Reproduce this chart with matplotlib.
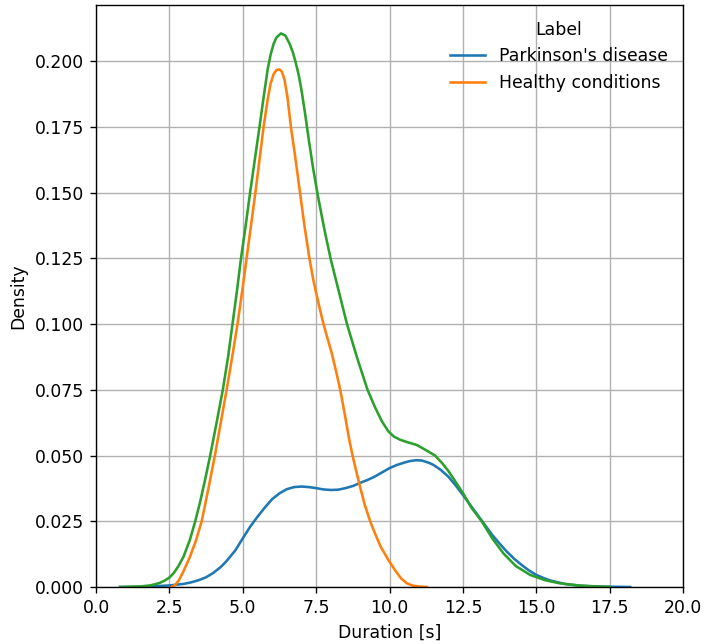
import matplotlib
matplotlib.use("Agg")
import matplotlib.pyplot as plt

# KDE curves (duration in s, density)
pd_x = [0.82, 1.5, 2.0, 2.5, 3.0, 3.25, 3.5, 3.75, 4.0, 4.25, 4.45, 4.75, 5.0, 5.25,
        5.5, 5.75, 6.0, 6.25, 6.5, 6.75, 7.0, 7.25, 7.5, 7.75, 8.0, 8.25, 8.5,
        8.75, 9.0, 9.25, 9.5, 9.75, 10.0, 10.25, 10.5, 10.7, 10.9, 11.1, 11.35,
        11.5, 11.75, 12.0, 12.25, 12.5, 12.75, 13.0, 13.25, 13.5, 13.75, 14.0,
        14.25, 14.5, 14.75, 15.0, 15.25, 15.5, 16.0, 16.5, 17.0, 18.2]
pd_y = [0.0, 0.0001, 0.0003, 0.0006, 0.0012, 0.0018, 0.0026, 0.0037, 0.0054,
        0.0076, 0.0099, 0.0140, 0.0185, 0.0229, 0.0267, 0.0302, 0.0334, 0.0356,
        0.0372, 0.0380, 0.0382, 0.0380, 0.0376, 0.0371, 0.0369, 0.0370, 0.0376,
        0.0384, 0.0396, 0.0407, 0.0420, 0.0436, 0.0452, 0.0464, 0.0473, 0.0479,
        0.0482, 0.0481, 0.0472, 0.0464, 0.0445, 0.0420, 0.0387, 0.0350, 0.0312,
        0.0274, 0.0236, 0.0198, 0.0165, 0.0134, 0.0107, 0.0084, 0.0063, 0.0046,
        0.0034, 0.0024, 0.0011, 0.0005, 0.0002, 0.0]

hc_x = [2.58, 2.7, 2.83, 2.95, 3.07, 3.2, 3.4, 3.6, 3.83, 4.05, 4.25, 4.45, 4.64,
        4.82, 4.98, 5.13, 5.28, 5.43, 5.57, 5.71, 5.85, 5.95, 6.05, 6.15, 6.25,
        6.33, 6.42, 6.52, 6.64, 6.8, 6.95, 7.1, 7.27, 7.4, 7.5, 7.62, 7.75, 7.9,
        8.03, 8.18, 8.32, 8.42, 8.51, 8.62, 8.74, 8.86, 8.98, 9.15, 9.34, 9.5,
        9.7, 9.96, 10.2, 10.4, 10.59, 10.8, 11.0, 11.27]
hc_y = [0.0, 0.0008, 0.0027, 0.0053, 0.0082, 0.0115, 0.0175, 0.025, 0.0375, 0.05,
        0.0625, 0.075, 0.0875, 0.1, 0.1125, 0.125, 0.1375, 0.15, 0.1625, 0.175,
        0.1855, 0.1915, 0.195, 0.1966, 0.1968, 0.196, 0.193, 0.1865, 0.175,
        0.1625, 0.15, 0.1375, 0.125, 0.117, 0.1118, 0.106, 0.1, 0.094, 0.089,
        0.082, 0.075, 0.069, 0.0635, 0.0565, 0.05, 0.0443, 0.0388, 0.0315, 0.025,
        0.0205, 0.0153, 0.0103, 0.0062, 0.0032, 0.0014, 0.0005, 0.0002, 0.0]

all_x = [0.82, 1.2, 1.5, 1.84, 2.0, 2.18, 2.35, 2.5, 2.64, 2.8, 2.98, 3.2, 3.38,
         3.55, 3.72, 3.89, 4.1, 4.32, 4.5, 4.65, 4.8, 4.94, 5.1, 5.25, 5.41, 5.57,
         5.72, 5.85, 5.95, 6.05, 6.15, 6.3, 6.45, 6.6, 6.7, 6.79, 6.9, 7.0, 7.13,
         7.25, 7.4, 7.56, 7.78, 8.0, 8.27, 8.55, 8.9, 9.25, 9.5, 9.74, 9.96, 10.15,
         10.36, 10.6, 10.93, 11.2, 11.55, 11.8, 12.0, 12.25, 12.5, 12.8, 13.14,
         13.5, 13.88, 14.3, 14.79, 15.3, 15.8, 16.5, 17.5]
all_y = [0.0, 0.0001, 0.0002, 0.0006, 0.001, 0.0016, 0.0025, 0.0036, 0.0052,
         0.0078, 0.0115, 0.018, 0.025, 0.0325, 0.041, 0.05, 0.062, 0.075, 0.0875,
         0.1, 0.1125, 0.125, 0.1375, 0.15, 0.1625, 0.175, 0.187, 0.197, 0.2025,
         0.2065, 0.209, 0.2105, 0.2097, 0.2065, 0.2035, 0.2, 0.195, 0.189, 0.1795,
         0.170, 0.159, 0.1487, 0.136, 0.1245, 0.1125, 0.1, 0.087, 0.075, 0.0685,
         0.063, 0.0592, 0.0572, 0.056, 0.0551, 0.054, 0.0523, 0.05, 0.047, 0.0442,
         0.040, 0.0357, 0.030, 0.025, 0.0185, 0.0128, 0.0080, 0.0046, 0.0026,
         0.0014, 0.0005, 0.0]

fig = plt.figure(figsize=(704/124, 644/124), dpi=124)
ax = fig.add_axes([0.1364, 0.0885, 0.8338, 0.9037])

ax.plot(pd_x, pd_y, color="tab:blue", lw=1.5, label="Parkinson's disease")
ax.plot(hc_x, hc_y, color="tab:orange", lw=1.5, label="Healthy conditions")
ax.plot(all_x, all_y, color="tab:green", lw=1.5)

ax.set_xlim(0, 20)
ax.set_ylim(0, 0.2213)
ax.set_xlabel("Duration [s]")
ax.set_ylabel("Density")
ax.grid(True)
ax.legend(title="Label", loc="upper right", frameon=False)

fig.savefig("out.png", dpi=124)
